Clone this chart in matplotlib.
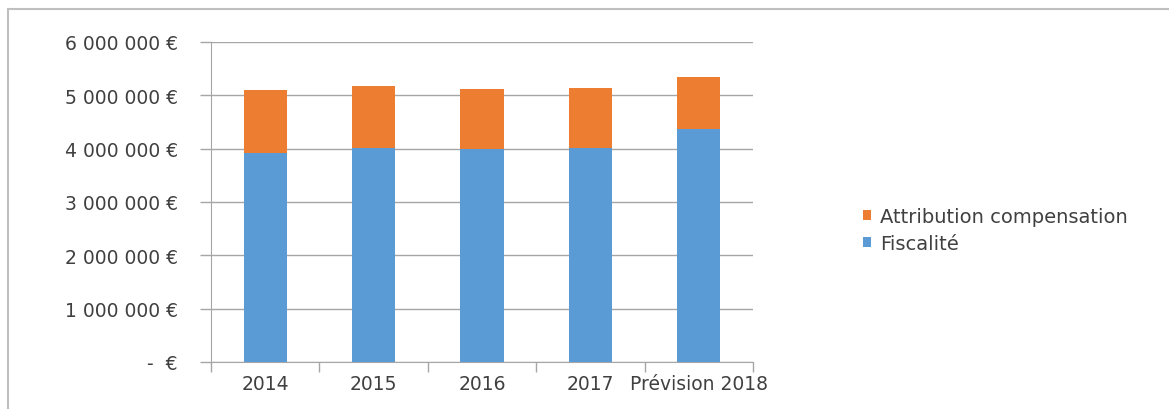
import matplotlib
matplotlib.use("Agg")
import matplotlib.pyplot as plt
from matplotlib.lines import Line2D
from matplotlib.ticker import FixedLocator
import numpy as np

categories = ["2014", "2015", "2016", "2017", "Prévision 2018"]
fiscalite = [3920000, 4010000, 3990000, 4020000, 4370000]
attribution = [1180000, 1165000, 1120000, 1110000, 970000]
ytick_values = [0, 1000000, 2000000, 3000000, 4000000, 5000000, 6000000]
ytick_labels = ["-  €", "1 000 000 €", "2 000 000 €", "3 000 000 €",
                "4 000 000 €", "5 000 000 €", "6 000 000 €"]

plt.rcParams['font.family'] = ['DejaVu Sans']

blue = "#5B9BD5"
orange = "#ED7D31"
text_col = "#404040"
grid_col = "#A6A6A6"

fig = plt.figure(figsize=(11.69, 4.10), dpi=100)
ax = fig.add_axes([211/1169, 1-363/410, (753-211)/1169, (363-43)/410])

x = np.arange(len(categories))
b1 = ax.bar(x, fiscalite, width=0.4, color=blue, label="Fiscalité", zorder=3)
b2 = ax.bar(x, attribution, bottom=fiscalite, width=0.4, color=orange,
            label="Attribution compensation", zorder=3)

ax.set_xlim(-0.5, len(categories)-0.5)
ax.set_ylim(0, 6000000)
ax.set_yticks(ytick_values)
ax.set_yticklabels(ytick_labels, fontsize=13.5, color=text_col)
ax.set_xticks(x)
ax.set_xticklabels(categories, fontsize=13.5, color=text_col)
ax.tick_params(axis='x', which='major', length=0, pad=9)
ax.xaxis.set_minor_locator(FixedLocator(np.arange(-0.5, len(categories), 1.0)))
ax.tick_params(axis='x', which='minor', length=7, color=grid_col, width=1)
ax.tick_params(axis='y', length=8, color=grid_col, width=1, pad=16)

ax.grid(axis='y', color=grid_col, linewidth=1, zorder=0)
for s in ['top', 'right']:
    ax.spines[s].set_visible(False)
ax.spines['left'].set_color(grid_col)
ax.spines['bottom'].set_color(grid_col)

handles = [b2, b1]
leg = fig.legend(handles, ["Attribution compensation", "Fiscalité"],
                 loc='center left', bbox_to_anchor=(845/1169, 1-231/410),
                 frameon=False, fontsize=14, handlelength=0.45, handleheight=0.45,
                 handletextpad=0.45, labelspacing=0.4, labelcolor=text_col)

frame_kw = dict(transform=fig.transFigure, color="#BFBFBF", linewidth=1.5)
fig.add_artist(Line2D([8/1169, 1.0], [1-10/410, 1-10/410], **frame_kw))
fig.add_artist(Line2D([8/1169, 8/1169], [0.0, 1-10/410], **frame_kw))

fig.savefig("out.png", dpi=100)
